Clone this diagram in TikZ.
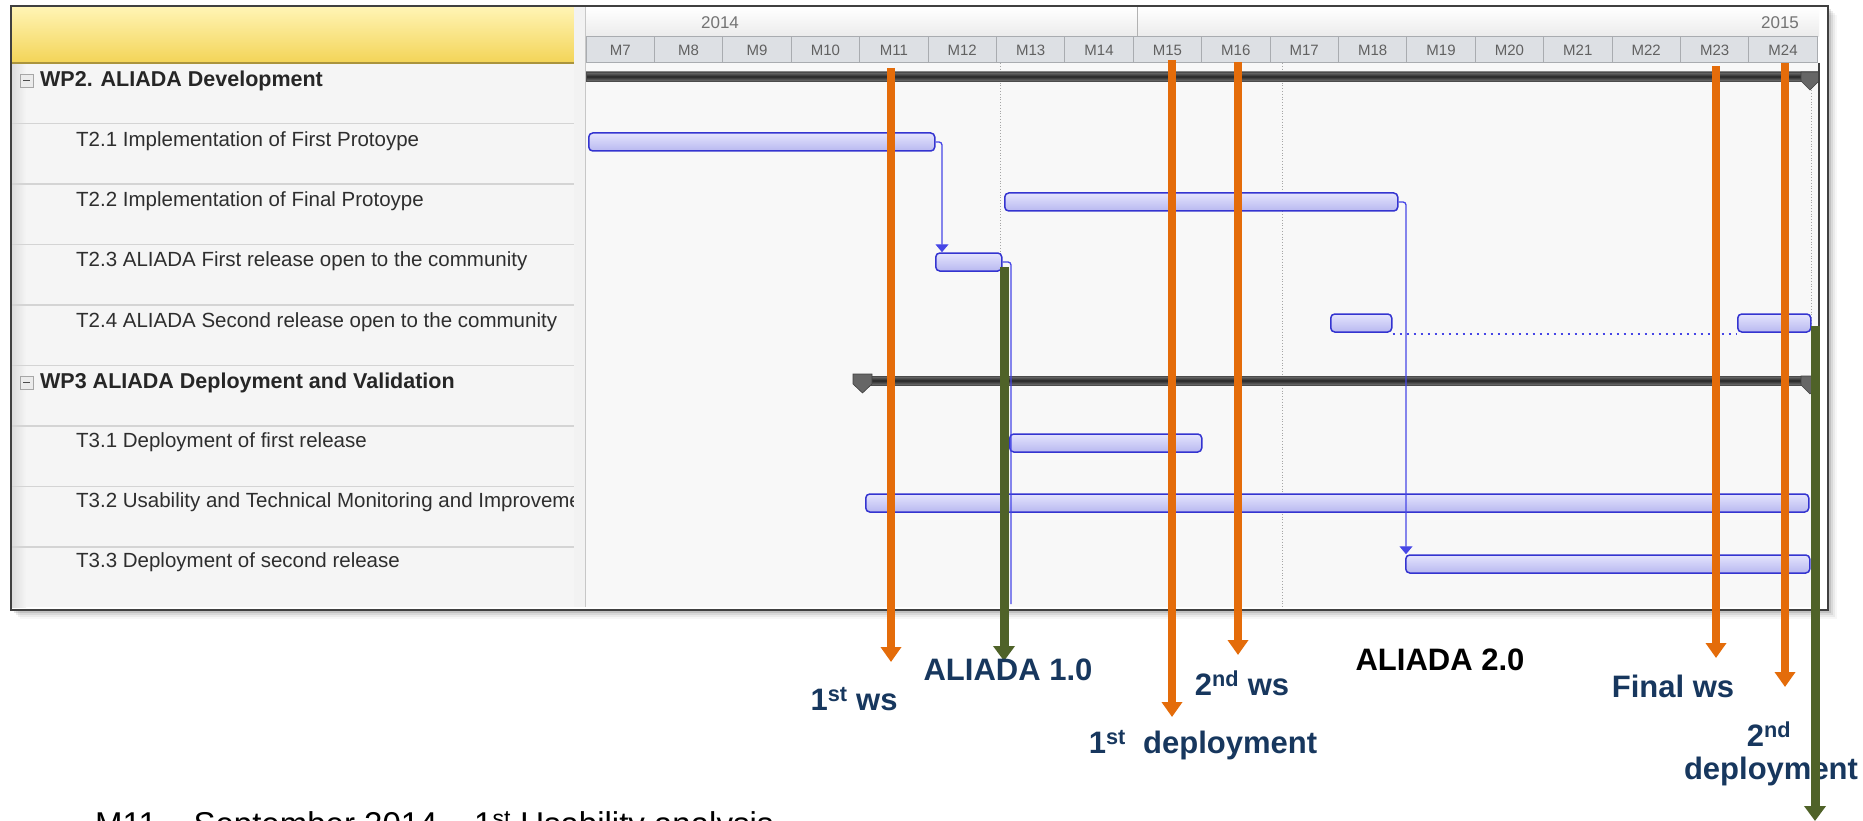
\documentclass[tikz,border=0pt]{standalone}
\usepackage{fontspec}
\setmainfont{Liberation Sans}
\usetikzlibrary{arrows.meta}
\definecolor{orangeA}{HTML}{E46C0A}
\definecolor{greenA}{HTML}{4F6228}
\definecolor{navyA}{HTML}{17375E}
\definecolor{barfillA}{HTML}{B8B8F0}
\definecolor{barlightA}{HTML}{E4E4FD}
\definecolor{barlineA}{HTML}{3434D0}
\definecolor{connA}{HTML}{4646E6}
\definecolor{rowtextA}{HTML}{2E2E2E}
\definecolor{panelA}{HTML}{F5F5F5}
\definecolor{chartbgA}{HTML}{F8F8F8}
\definecolor{sepA}{HTML}{D4D4D4}
\definecolor{monthA}{HTML}{DDE0E4}
\definecolor{monthlineA}{HTML}{A9ACB0}
\definecolor{yellowtopA}{HTML}{FFF4B4}
\definecolor{yellowbotA}{HTML}{F3D457}
\tikzset{
  taskbar/.style={draw=barlineA, line width=1.5pt, rounded corners=4pt, top color=barlightA, bottom color=barfillA, minimum height=18pt, inner sep=0pt, anchor=west},
  rowtext/.style={anchor=west, font=\fontsize{20.5}{23}\selectfont, text=rowtextA, inner sep=0pt},
  wptext/.style={anchor=west, font=\fontsize{21.5}{23}\selectfont\bfseries, text=black!85, inner sep=0pt},
  monthlabel/.style={font=\fontsize{15}{17}\selectfont, text=black!62, inner sep=0pt},
  yearlabel/.style={font=\fontsize{17}{19}\selectfont, text=black!55, inner sep=0pt},
  conn/.style={draw=connA, line width=1.3pt, rounded corners=3pt},
  connarrow/.style={conn, -{Triangle[width=13pt,length=8pt]}},
  milestone/.style={line width=8pt, draw=orangeA, -{Triangle[width=20pt,length=15pt]}},
  release/.style={line width=9pt, draw=greenA, -{Triangle[width=21pt,length=15pt]}},
  msname/.style={font=\fontsize{31}{34}\selectfont\bfseries, text=navyA, inner sep=0pt},
  summary/.style={top color=black!55, bottom color=black!55, middle color=black!85, draw=black!70, line width=0.6pt},
  marker/.style={fill=black!60, draw=black!75, line width=0.6pt},
  minusbox/.style={draw=black!35, fill=black!8, line width=0.8pt},
}
\begin{document}
\begin{tikzpicture}[x=1pt,y=-1pt]
\useasboundingbox (0,0) rectangle (1863,821);
\clip (0,0) rectangle (1863,821);
\fill[white] (0,0) rectangle (1863,821);
% frame shadow
\foreach \d/\o in {9/0.03,7/0.05,5/0.07,3/0.1} {
  \fill[black,opacity=\o] (11+\d,6+\d) rectangle (1828+\d,610+\d);
}
\fill[white] (11,6) rectangle (1828,610);
% left panel
\fill[panelA] (11,63) rectangle (574,607);
\shade[left color=black!14, right color=panelA] (11,63) rectangle (26,607);
\shade[top color=yellowtopA, bottom color=yellowbotA] (11,7) rectangle (574,63);
\draw[yellowbotA!70!black, line width=1.5pt] (11,63) -- (574,63);
\foreach \y in {123.5,184,244.5,305,365.5,426,486.5,547}
  \draw[sepA, line width=1.5pt] (11,\y) -- (574,\y);
% splitter
\fill[black!5] (574,7) rectangle (586,607);
\draw[black!22, line width=1pt] (585,7) -- (585,607);
% timeline header
\shade[top color=white, bottom color=black!8] (586,7) rectangle (1819,37);
\draw[black!30, line width=1pt] (1137,7) -- (1137,37);
\foreach \i [evaluate=\i as \xl using 586+(\i-7)*68.4] in {7,...,24} {
  \draw[monthlineA, line width=1pt, fill=monthA] (\xl,37) rectangle ++(68.4,26);
  \node[monthlabel] (m\i) at (\xl+34.2,50) {M\i};
}
\node[yearlabel] (y2014) at (720,23) {2014};
\node[yearlabel] (y2015) at (1780,23) {2015};
% chart area
\fill[chartbgA] (586,63) rectangle (1819,607);
\draw[black!35, dotted, line width=0.8pt] (1000,63) -- (1000,607);
\draw[black!35, dotted, line width=0.8pt] (1282,63) -- (1282,607);
\draw[black!35, dotted, line width=0.8pt] (1811,82) -- (1811,607);
% summary bars
\shade[summary] (586,72) rectangle (1819,81);
\filldraw[marker] (1801,72) -- (1819,72) -- (1819,81) -- (1810,90) -- (1801,81) -- cycle;
\shade[summary] (856,376) rectangle (1819,385);
\filldraw[marker] (853,374) -- (872,374) -- (872,384) -- (862.5,393) -- (853,384) -- cycle;
\filldraw[marker] (1801,376) -- (1819,376) -- (1819,385) -- (1810,394) -- (1801,385) -- cycle;
% task bars
\node[taskbar, minimum width=346pt] (t21) at (588,142) {};
\node[taskbar, minimum width=393pt] (t22) at (1004,202) {};
\node[taskbar, minimum width=66pt] (t23) at (935,262) {};
\node[taskbar, minimum width=61pt] (t24a) at (1330,323) {};
\node[taskbar, minimum width=73pt] (t24b) at (1737,323) {};
\node[taskbar, minimum width=192pt] (t31) at (1009,443) {};
\node[taskbar, minimum width=943pt] (t32) at (865,503) {};
\node[taskbar, minimum width=404pt] (t33) at (1405,564) {};
% dependencies
\coordinate (d23end) at (1011,604);
\draw[connarrow] (t21.east) -| ([xshift=7pt]t23.north west);
\draw[connarrow] (t22.east) -| ([xshift=1pt]t33.north west);
\draw[conn] (t23.east) -| (d23end);
\draw[connA, line width=2pt, dash pattern=on 2pt off 5pt] ([yshift=-1pt]t24a.south east) -- ([yshift=-1pt]t24b.south west);
% right chart border and frame
\draw[black!75, line width=1.2pt] (1819,63) -- (1819,607);
\draw[black!75, line width=2pt] (11,6) rectangle (1828,610);
% left panel texts
\filldraw[minusbox] (20,74) rectangle (33,87);
\draw[black!70, line width=1.2pt] (23,80.5) -- (30,80.5);
\node[wptext] (wp2) at (40,80.5) {WP2. ALIADA Development};
\node[rowtext] (r21) at (76,141) {T2.1 Implementation of First Protoype};
\node[rowtext] (r22) at (76,201) {T2.2 Implementation of Final Protoype};
\node[rowtext] (r23) at (76,261) {T2.3 ALIADA First release open to the community};
\node[rowtext] (r24) at (76,322) {T2.4 ALIADA Second release open to the community};
\filldraw[minusbox] (20,376) rectangle (33,389);
\draw[black!70, line width=1.2pt] (23,382.5) -- (30,382.5);
\node[wptext] (wp3) at (40,382.5) {WP3 ALIADA Deployment and Validation};
\node[rowtext] (r31) at (76,442) {T3.1 Deployment of first release};
\begin{scope}
  \clip (11,480) rectangle (573,530);
  \node[rowtext] (r32) at (76,502) {T3.2 Usability and Technical Monitoring and Improvement};
\end{scope}
\node[rowtext] (r33) at (76,562) {T3.3 Deployment of second release};
% milestone arrows
\coordinate (a11s) at (891,68);   \coordinate (a11e) at (891,662);
\coordinate (a15s) at (1172,60);  \coordinate (a15e) at (1172,717);
\coordinate (a16s) at (1238,62);  \coordinate (a16e) at (1238,655);
\coordinate (a23s) at (1716,66);  \coordinate (a23e) at (1716,658);
\coordinate (a24s) at (1785,63);  \coordinate (a24e) at (1785,687);
\coordinate (g1s) at (1004,267);  \coordinate (g1e) at (1004,661);
\coordinate (g2s) at (1815,326);  \coordinate (g2e) at (1815,821);
\draw[milestone] (a11s) -- (a11e);
\draw[milestone] (a15s) -- (a15e);
\draw[milestone] (a16s) -- (a16e);
\draw[milestone] (a23s) -- (a23e);
\draw[milestone] (a24s) -- (a24e);
\draw[release] (g1s) -- (g1e);
% labels
\node[msname] (l1ws) at (854,699) {1\textsuperscript{st} ws};
\node[msname] (lal1) at (1008,670) {ALIADA 1.0};
\node[msname] (l2ws) at (1242,683) {2\textsuperscript{nd} ws};
\node[msname] (l1dep) at (1203,745) {1\textsuperscript{st}~ deployment};
\node[msname, text=black] (lal2) at (1440,660) {ALIADA 2.0};
\node[msname] (lfws) at (1673,686) {Final ws};
\node[msname] (l2nd) at (1769,734) {2\textsuperscript{nd}};
\node[msname] (l2dep) at (1771,771) {deployment};
\draw[release] (g2s) -- (g2e);
% bottom note (cut by the picture edge)
\node[anchor=north west, font=\fontsize{33}{38}\selectfont, inner sep=0pt] (note) at (95,811) {M11 – September 2014 – 1\textsuperscript{st} Usability analysis};
\end{tikzpicture}
\end{document}
